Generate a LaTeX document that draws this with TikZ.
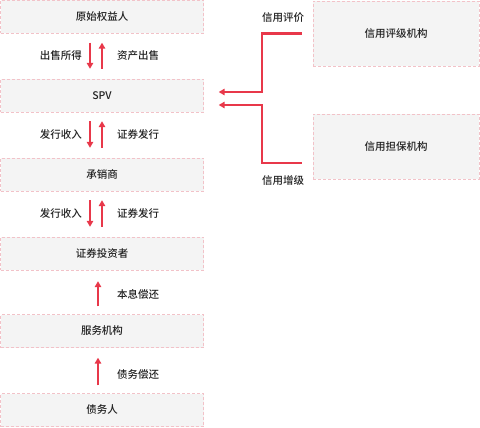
\documentclass[tikz,border=0pt]{standalone}
\usepackage{fontspec}
\setmainfont{Noto Sans CJK SC Medium}
\usepackage{tikz}
\usetikzlibrary{arrows.meta}
\definecolor{boxfill}{HTML}{F4F4F4}
\definecolor{boxline}{HTML}{F2C2C8}
\definecolor{flowred}{HTML}{E8384A}
\definecolor{txt}{HTML}{222222}
\tikzstyle{entity} = [draw=boxline,fill=boxfill,dashed,dash pattern=on 3pt off 2pt,rectangle,
                      align=center,inner sep=0pt,text=txt,font=\fontsize{10.5}{12}\selectfont]
\tikzstyle{arrow} = [line width=2.2pt,flowred,-{Triangle[width=6.5pt,length=6pt]}]
\tikzstyle{lbl} = [text=txt,inner sep=0pt,font=\fontsize{10.5}{12}\selectfont]

\begin{document}
\begin{tikzpicture}[x=1pt,y=-1pt]
    \useasboundingbox (0,0) rectangle (480,428);
    % main column
    \node[entity,minimum width=203pt,minimum height=33pt] (orig) at (102,17) {原始权益人};
    \node[entity,minimum width=203pt,minimum height=33pt] (spv) at (102,95.5) {SPV};
    \node[entity,minimum width=203pt,minimum height=33pt] (uw) at (102,174.5) {承销商};
    \node[entity,minimum width=203pt,minimum height=33pt] (inv) at (102,253.5) {证券投资者};
    \node[entity,minimum width=203pt,minimum height=33pt] (svc) at (102,331) {服务机构};
    \node[entity,minimum width=203pt,minimum height=33pt] (debt) at (102,410) {债务人};
    % side boxes
    \node[entity,minimum width=166pt,minimum height=65pt] (rating) at (396,33.5) {信用评级机构};
    \node[entity,minimum width=166pt,minimum height=65pt] (guar) at (396,146.5) {信用担保机构};

    % flows between orig and spv
    \draw[arrow] ([xshift=-12pt,yshift=-9pt]orig.south) -- ([xshift=-12pt,yshift=10pt]spv.north);
    \draw[arrow] ([yshift=10pt]spv.north) -- ([yshift=-9pt]orig.south);
    \node[lbl,anchor=east] (l1) at (82,56) {出售所得};
    \node[lbl,anchor=west] (r1) at (117,56) {资产出售};
    % spv and underwriter
    \draw[arrow] ([xshift=-12pt,yshift=-9pt]spv.south) -- ([xshift=-12pt,yshift=10pt]uw.north);
    \draw[arrow] ([yshift=10pt]uw.north) -- ([yshift=-9pt]spv.south);
    \node[lbl,anchor=east] (l2) at (82,134) {发行收入};
    \node[lbl,anchor=west] (r2) at (117,134) {证券发行};
    % underwriter and investors
    \draw[arrow] ([xshift=-12pt,yshift=-9pt]uw.south) -- ([xshift=-12pt,yshift=10pt]inv.north);
    \draw[arrow] ([yshift=10pt]inv.north) -- ([yshift=-9pt]uw.south);
    \node[lbl,anchor=east] (l3) at (82,213) {发行收入};
    \node[lbl,anchor=west] (r3) at (117,213) {证券发行};
    % repayments
    \draw[arrow] ([xshift=-4pt,yshift=8pt]svc.north) -- ([xshift=-4pt,yshift=-11pt]inv.south);
    \node[lbl,anchor=west] (r4) at (117,294) {本息偿还};
    \draw[arrow] ([xshift=-4pt,yshift=8pt]debt.north) -- ([xshift=-4pt,yshift=-10pt]svc.south);
    \node[lbl,anchor=west] (r5) at (117,375) {债务偿还};

    % rating and guarantee
    \draw[arrow] ([xshift=-11pt]rating.west) -| ([xshift=58pt,yshift=3.5pt]spv.east)
        -- ([xshift=15pt,yshift=3.5pt]spv.east);
    \draw[arrow] ([xshift=-11pt,yshift=-16.5pt]guar.west) -| ([xshift=58pt,yshift=-9.5pt]spv.east)
        -- ([xshift=15pt,yshift=-9.5pt]spv.east);
    \node[lbl] (t1) at (283,18) {信用评价};
    \node[lbl] (t2) at (283,181) {信用增级};
\end{tikzpicture}
\end{document}
